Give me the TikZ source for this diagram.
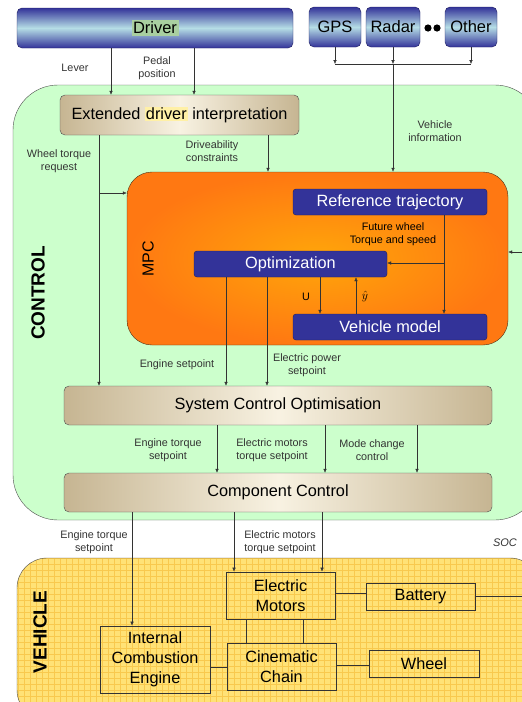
\documentclass[tikz,border=0pt]{standalone}
\usepackage{fontspec}
\setmainfont{Liberation Sans}
\usepackage{xcolor}
\usetikzlibrary{arrows.meta,calc,positioning}

\definecolor{navy}{HTML}{333399}
\definecolor{navyline}{HTML}{1C1C5E}
\definecolor{skylt}{HTML}{B6DEE6}
\definecolor{tan}{HTML}{C6B592}
\definecolor{cream}{HTML}{F8F2E2}
\definecolor{ctrlgreen}{HTML}{CCFFCC}
\definecolor{mpcin}{HTML}{FFA60A}
\definecolor{mpcout}{HTML}{FF7812}
\definecolor{vehyel}{HTML}{FFE276}
\definecolor{vehgrid}{HTML}{F8C94E}
\definecolor{hlgreen}{HTML}{A9CFA0}
\definecolor{hlyel}{HTML}{FFF0A6}
\definecolor{lbl}{HTML}{333333}

\begin{document}
\begin{tikzpicture}[x=1pt,y=-1pt,
  bluebox/.style={draw=navyline,rounded corners=5pt,top color=navy,bottom color=navy,middle color=skylt,font=\fontsize{16.5}{19}\selectfont},
  mpcbox/.style={draw=navyline,rounded corners=3pt,fill=navy,text=white,font=\fontsize{16.3}{18}\selectfont,minimum width=194,minimum height=26,inner sep=0pt},
  tanbox/.style={draw=black!70,rounded corners=5pt,left color=tan,right color=tan,middle color=cream,font=\fontsize{16.3}{18}\selectfont,inner sep=0pt},
  part/.style={draw=black!80,thick,align=center,inner sep=0pt,font=\fontsize{16.3}{20}\selectfont},
  lab/.style={align=center,text=lbl,font=\fontsize{10.8}{13}\selectfont},
  arr/.style={-{Latex[length=4pt,width=3.5pt]},black!80},
  wire/.style={black!80}
]
\useasboundingbox (0,0) rectangle (522,702);

% regions
\draw[black!70,fill=ctrlgreen,rounded corners=45pt] (13,85) rectangle (540,520);
\begin{scope}
  \clip[rounded corners=30pt] (17,558) rectangle (540,720);
  \fill[vehyel] (17,558) rectangle (540,720);
  \draw[vehgrid,line width=0.35pt,step=6pt] (17,558) grid (540,720);
\end{scope}
\draw[black!70,rounded corners=30pt] (17,558) rectangle (540,720);
\node[rotate=90,font=\bfseries\fontsize{19}{21}\selectfont] (ctrl) at (38,293) {CONTROL};
\node[rotate=90,font=\bfseries\fontsize{19}{21}\selectfont] (veh) at (40,632) {VEHICLE};

% inputs
\node[bluebox,minimum width=276,minimum height=40] (drv) at (155,28) {\setlength{\fboxsep}{1.5pt}\colorbox{hlgreen}{Driver}};
\node[bluebox,minimum width=52,minimum height=40,inner sep=0pt] (gps) at (335,27) {GPS};
\node[bluebox,minimum width=54,minimum height=40,inner sep=0pt] (radar) at (393,27) {Radar};
\node[bluebox,minimum width=52,minimum height=40,inner sep=0pt] (other) at (471,27) {Other};
\fill (428,28) circle (3.6pt) (437,28) circle (3.6pt);

% control
\node[tanbox,minimum width=239,minimum height=40] (ext) at (179.5,115) {Extended \setlength{\fboxsep}{1pt}\colorbox{hlyel}{driver} interpretation};
\node[draw=black!60!brown,rounded corners=25pt,inner color=mpcin,outer color=mpcout,minimum width=381,minimum height=173] (mpc) at (317.5,258.5) {};
\node[rotate=90,font=\fontsize{16}{18}\selectfont] (mpclab) at (148,259) {MPC};
\node[mpcbox] (ref) at (390,202) {Reference trajectory};
\node[mpcbox,minimum width=193] (opt) at (290.5,264) {Optimization};
\node[mpcbox] (vm) at (390,327) {Vehicle model};
\node[tanbox,minimum width=428,minimum height=39] (sco) at (278,405.5) {System Control Optimisation};
\node[tanbox,minimum width=428,minimum height=39] (cc) at (278,492.5) {Component Control};

% vehicle
\node[part,minimum width=109,minimum height=47] (em) at (280.5,595.5) {Electric\\Motors};
\node[part,minimum width=109,minimum height=27] (bat) at (420.5,596.5) {Battery};
\node[part,minimum width=110,minimum height=67] (ice) at (155,659.5) {Internal\\Combustion\\Engine};
\node[part,minimum width=109,minimum height=47] (cin) at (281.5,666.5) {Cinematic\\Chain};
\node[part,minimum width=110,minimum height=27] (whl) at (424,663.5) {Wheel};

% driver and sensors
\draw[arr] (drv.south -| 111,0) -- (ext.north -| 111,0);
\draw[arr] (drv.south -| 194,0) -- (ext.north -| 194,0);
\node[lab] (lever) at (75,68) {Lever};
\node[lab] (pedal) at (157,68) {Pedal\\position};
\coordinate (bus) at (393,64);
\draw[arr] (gps.south) -- (gps.south |- bus);
\draw[arr] (other.south) -- (other.south |- bus);
\draw[arr] (radar.south) -- (bus);
\draw[wire] (gps.south |- bus) -- (other.south |- bus);
\draw[arr] (bus) -- (mpc.north -| bus);
\node[lab] (vinfo) at (435,131) {Vehicle\\information};

% into MPC
\coordinate (wtr) at (99,193);
\draw[arr] (ext.south -| wtr) -- (sco.north -| wtr);
\draw[arr] (wtr) -- (mpc.west |- wtr);
\node[lab] (wtrlab) at (59,161) {Wheel torque\\request};
\draw[arr] (ext.south -| 268,0) -- (mpc.north -| 268,0);
\node[lab] (drvlab) at (212,151) {Driveability\\constraints};
\coordinate (soc) at (522,252);
\draw[arr] (soc) -- (mpc.east |- soc);

% inside MPC
\coordinate (fw) at (444,263);
\draw[arr] (ref.south -| fw) -- (vm.north -| fw);
\draw[arr] (fw) -- (opt.east |- fw);
\node[lab,text=black] (fwlab) at (393,234) {Future wheel\\Torque and speed};
\draw[arr] (opt.south -| 320,0) -- (vm.north -| 320,0);
\draw[arr] (vm.north -| 356,0) -- (opt.south -| 356,0);
\node[lab,text=black] (ulab) at (306,297) {U};
\node[font=\fontsize{12}{13}\selectfont] (yhat) at (365,296) {$\hat{y}$};

% MPC to SCO
\draw[arr] (opt.south -| 226,0) -- (sco.north -| 226,0);
\draw[arr] (opt.south -| 267,0) -- (sco.north -| 267,0);
\node[lab] (englab) at (177,365) {Engine setpoint};
\node[lab] (elplab) at (307,365) {Electric power\\setpoint};

% SCO to CC
\draw[arr] (sco.south -| 217,0) -- (cc.north -| 217,0);
\draw[arr] (sco.south -| 325,0) -- (cc.north -| 325,0);
\draw[arr] (sco.south -| 417,0) -- (cc.north -| 417,0);
\node[lab] (etq) at (168,450) {Engine torque\\setpoint};
\node[lab] (emtq) at (272,450) {Electric motors\\torque setpoint};
\node[lab] (mode) at (372,450) {Mode change\\control};

% CC to vehicle
\draw[arr] (cc.south -| 132,0) -- (ice.north -| 132,0);
\draw[arr] (cc.south -| 234,0) -- (em.north -| 234,0);
\draw[arr] (cc.south -| 322,0) -- (em.north -| 322,0);
\node[lab] (etq2) at (94,542) {Engine torque\\setpoint};
\node[lab] (emtq2) at (280,542) {Electric motors\\torque setpoint};
\node[lab,font=\itshape\fontsize{11}{12}\selectfont] (soclab) at (505,543) {SOC};

% mechanical links
\draw[wire,thick] (em.east |- 0,593) -- (bat.west |- 0,593);
\draw[wire,thick] (bat.east) -- (bat.east -| soc);
\draw[wire,thick] (em.south -| 246,0) -- (cin.north -| 246,0);
\draw[wire,thick] (em.south -| 303,0) -- (cin.north -| 303,0);
\draw[wire,thick] (ice.east |- 0,667) -- (cin.west |- 0,667);
\draw[wire,thick] (cin.east |- 0,665) -- (whl.west |- 0,665);
\end{tikzpicture}
\end{document}
